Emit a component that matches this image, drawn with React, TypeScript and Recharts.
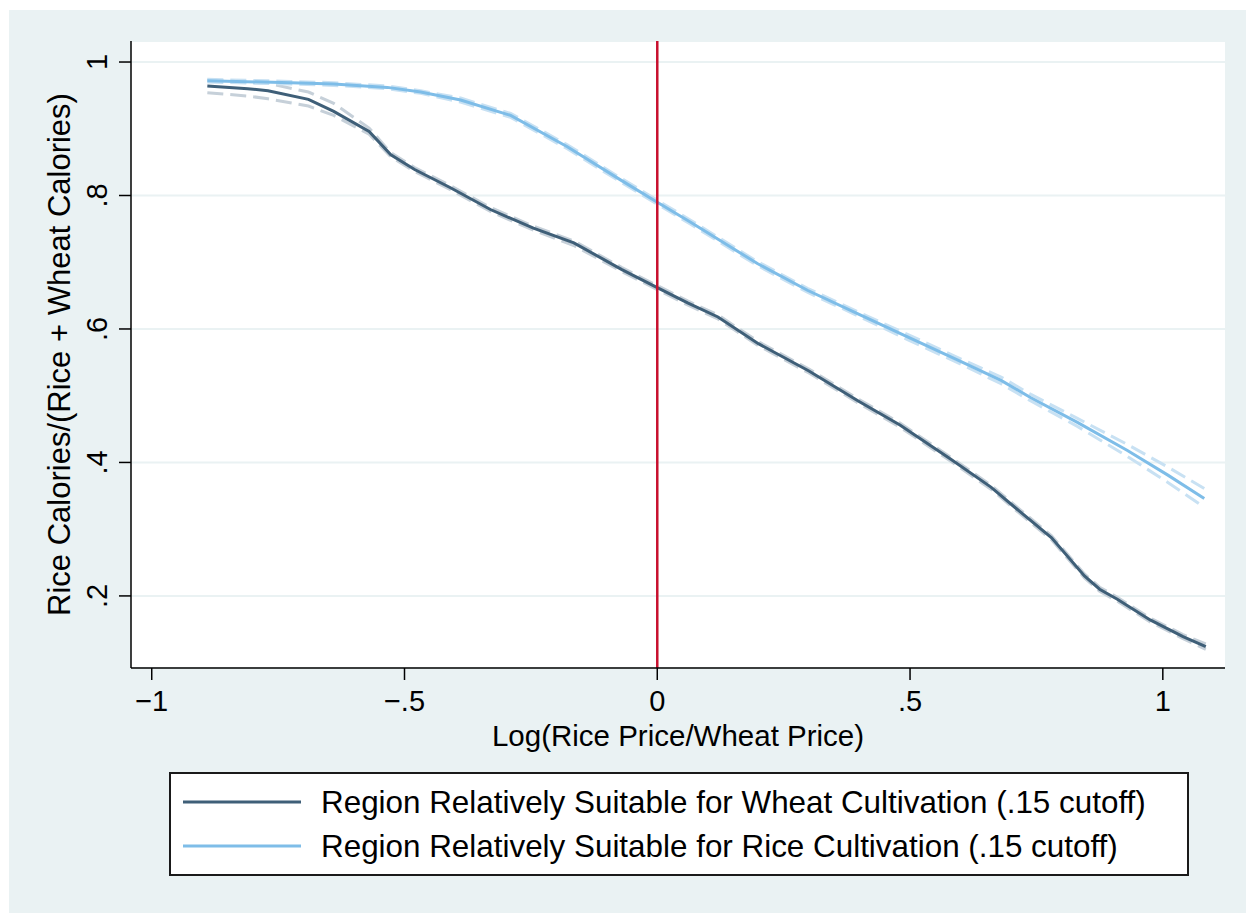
import React from "react"
import {
  LineChart,
  Line,
  XAxis,
  YAxis,
  CartesianGrid,
  ReferenceLine,
  Legend,
} from "recharts"

// lowess fit, wheat-suitable region
const wheatX = [
  -0.89, -0.81, -0.77, -0.69, -0.64, -0.57, -0.527, -0.48, -0.41, -0.33, -0.245,
  -0.165, -0.07, 0, 0.06, 0.12, 0.2, 0.3, 0.4, 0.48, 0.58, 0.66, 0.71, 0.78,
  0.845, 0.875, 0.91, 0.975, 1.04, 1.085,
]
const wheatY = [
  0.964, 0.96, 0.957, 0.944, 0.926, 0.896, 0.861, 0.839, 0.812, 0.779, 0.751,
  0.729, 0.689, 0.662, 0.639, 0.618, 0.578, 0.537, 0.491, 0.456, 0.405, 0.363,
  0.331, 0.287, 0.23, 0.21, 0.195, 0.164, 0.139, 0.124,
]
const wheatHi = [
  0.973, 0.97, 0.968, 0.955, 0.938, 0.901, 0.864, 0.842, 0.815, 0.782, 0.754,
  0.732, 0.692, 0.665, 0.642, 0.621, 0.581, 0.54, 0.494, 0.459, 0.408, 0.366,
  0.334, 0.29, 0.233, 0.213, 0.198, 0.167, 0.142, 0.128,
]
const wheatLo = [
  0.954, 0.949, 0.945, 0.934, 0.92, 0.892, 0.858, 0.836, 0.809, 0.776, 0.748,
  0.725, 0.686, 0.659, 0.636, 0.615, 0.575, 0.534, 0.488, 0.453, 0.402, 0.36,
  0.328, 0.284, 0.227, 0.207, 0.192, 0.161, 0.136, 0.12,
]

// lowess fit, rice-suitable region
const riceX = [
  -0.89, -0.725, -0.64, -0.534, -0.468, -0.389, -0.29, -0.178, -0.072, 0, 0.066,
  0.198, 0.297, 0.396, 0.495, 0.601, 0.68, 0.739, 0.831, 0.93, 1.01, 1.082,
]
const riceY = [
  0.972, 0.969, 0.967, 0.962, 0.955, 0.943, 0.92, 0.873, 0.823, 0.79, 0.76,
  0.698, 0.658, 0.623, 0.588, 0.551, 0.523, 0.497, 0.46, 0.418, 0.381, 0.346,
]
const riceHi = [
  0.974, 0.971, 0.969, 0.964, 0.957, 0.946, 0.923, 0.876, 0.826, 0.793, 0.763,
  0.701, 0.661, 0.626, 0.592, 0.555, 0.528, 0.502, 0.466, 0.427, 0.393, 0.361,
]
const riceLo = [
  0.97, 0.967, 0.965, 0.96, 0.953, 0.94, 0.917, 0.87, 0.82, 0.787, 0.757,
  0.695, 0.655, 0.62, 0.584, 0.547, 0.518, 0.492, 0.454, 0.409, 0.37, 0.333,
]

const xTicks = [-1, -0.5, 0, 0.5, 1]
const yTicks = [0.2, 0.4, 0.6, 0.8, 1]

const seriesNames = [
  "Region Relatively Suitable for Wheat Cultivation (.15 cutoff)",
  "Region Relatively Suitable for Rice Cultivation (.15 cutoff)",
]

const FONT = '"Liberation Sans", Arial, sans-serif'
const DARK = "#3f5f78"
const LIGHT = "#7ebde8"
const DARK_CI = "#c6d0d9"
const LIGHT_CI = "#c8e1f3"
const BG = "#eaf2f3"

const pts = (xs: number[], ys: number[]) => xs.map((x, i) => ({ x, y: ys[i] }))

// stata-style numbers: no leading zero, real minus sign
const fmt = (v: number) => {
  const s = String(Math.abs(v)).replace(/^0\./, ".")
  return v < 0 ? "\u2212" + s : s
}

const XTick = (props: any) => {
  const { x, y, payload } = props
  return (
    <text x={x} y={y + 29} textAnchor="middle" fontSize={29} fontFamily={FONT} fill="#000">
      {fmt(payload.value)}
    </text>
  )
}

const YTick = (props: any) => {
  const { x, y, payload } = props
  return (
    <text
      transform={`translate(${x - 10},${y}) rotate(-90)`}
      textAnchor="middle"
      fontSize={29}
      fontFamily={FONT}
      fill="#000"
    >
      {fmt(payload.value)}
    </text>
  )
}

const LegendBox = () => (
  <svg width={1020} height={104} style={{ display: "block" }}>
    <rect x={1} y={1} width={1018} height={102} fill="#fff" stroke="#1a1a1a" strokeWidth={2} />
    {[DARK, LIGHT].map((c, i) => (
      <g key={i}>
        <line x1={14} x2={132} y1={30 + i * 44} y2={30 + i * 44} stroke={c} strokeWidth={3} />
        <text x={152} y={41 + i * 44} fontSize={31.4} fontFamily={FONT} fill="#000">
          {seriesNames[i]}
        </text>
      </g>
    ))}
  </svg>
)

export default function App() {
  const band = {
    dot: false,
    activeDot: false,
    strokeWidth: 3,
    strokeDasharray: "16 7",
    isAnimationActive: false,
    legendType: "none" as const,
  }
  return (
    <div style={{ position: "absolute", left: 0, top: 0, width: 1246, height: 913, background: "#fff" }}>
      <div style={{ position: "absolute", left: 9, top: 10, right: 0, bottom: 0, background: BG }} />
      <LineChart
        width={1246}
        height={913}
        margin={{ top: 41, right: 21, left: 71, bottom: 185 }}
        style={{ position: "absolute", left: 0, top: 0 }}
      >
        <CartesianGrid vertical={false} fill="#fff" stroke={BG} strokeWidth={2} />
        <XAxis
          type="number"
          dataKey="x"
          domain={[-1.041, 1.123]}
          ticks={xTicks}
          height={60}
          tickSize={12}
          tick={<XTick />}
          axisLine={{ stroke: "#000", strokeWidth: 1.5 }}
          tickLine={{ stroke: "#000", strokeWidth: 1.5 }}
          allowDataOverflow
          label={({ viewBox }: any) => (
            <text
              x={viewBox.x + viewBox.width / 2}
              y={746}
              textAnchor="middle"
              fontSize={29.5}
              fontFamily={FONT}
              fill="#000"
            >
              Log(Rice Price/Wheat Price)
            </text>
          )}
        />
        <YAxis
          type="number"
          dataKey="y"
          domain={[0.092, 1.0315]}
          ticks={yTicks}
          width={60}
          tickSize={12}
          tick={<YTick />}
          axisLine={{ stroke: "#000", strokeWidth: 1.5 }}
          tickLine={{ stroke: "#000", strokeWidth: 1.5 }}
          allowDataOverflow
          label={({ viewBox }: any) => (
            <text
              transform={`translate(70,${viewBox.y + viewBox.height / 2}) rotate(-90)`}
              textAnchor="middle"
              fontSize={31}
              fontFamily={FONT}
              fill="#000"
            >
              Rice Calories/(Rice + Wheat Calories)
            </text>
          )}
        />
        <Line data={pts(wheatX, wheatHi)} dataKey="y" stroke={DARK_CI} {...band} />
        <Line data={pts(wheatX, wheatLo)} dataKey="y" stroke={DARK_CI} {...band} />
        <Line data={pts(riceX, riceHi)} dataKey="y" stroke={LIGHT_CI} {...band} />
        <Line data={pts(riceX, riceLo)} dataKey="y" stroke={LIGHT_CI} {...band} />
        <Line
          data={pts(wheatX, wheatY)}
          dataKey="y"
          name={seriesNames[0]}
          stroke={DARK}
          strokeWidth={3}
          dot={false}
          activeDot={false}
          isAnimationActive={false}
        />
        <Line
          data={pts(riceX, riceY)}
          dataKey="y"
          name={seriesNames[1]}
          stroke={LIGHT}
          strokeWidth={3}
          dot={false}
          activeDot={false}
          isAnimationActive={false}
        />
        <ReferenceLine x={0} stroke="#c8102e" strokeWidth={2.5} />
        {/* middle alignment keeps the legend out of the plot offset */}
        <Legend
          layout="horizontal"
          verticalAlign="middle"
          align="center"
          content={<LegendBox />}
          wrapperStyle={{ position: "absolute", left: 169, top: 772, width: 1020, height: 104 }}
        />
      </LineChart>
    </div>
  )
}
